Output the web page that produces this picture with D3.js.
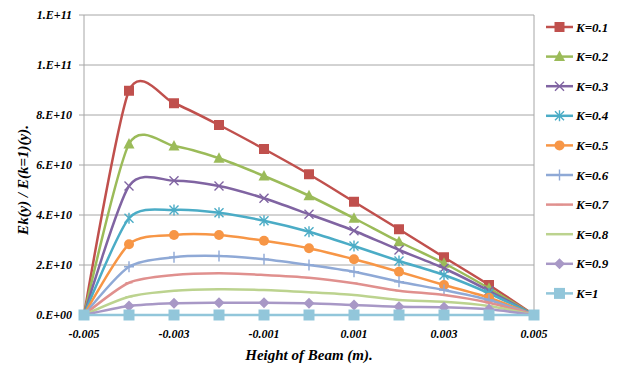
<!DOCTYPE html>
<html>
<head>
<meta charset="utf-8">
<script src="https://cdn.jsdelivr.net/npm/d3@7"></script>
<style>
  body { margin: 0; background: #fff; }
  svg { display: block; }
  text { font-family: "Times New Roman", "Liberation Serif", serif; font-weight: bold; font-style: italic; fill: #000; }
</style>
</head>
<body>
<div id="chart"></div>
<script>
// beam height positions (m)
const heights = [-0.005, -0.004, -0.003, -0.002, -0.001, 0, 0.001, 0.002, 0.003, 0.004, 0.005];

// Ek(y) / E(k=1)(y) (x 1e10)
const k01 = [0, 8.97, 8.47, 7.60, 6.64, 5.63, 4.53, 3.43, 2.31, 1.20, 0];
const k02 = [0, 6.84, 6.76, 6.27, 5.56, 4.77, 3.87, 2.93, 2.07, 1.07, 0];
const k03 = [0, 5.16, 5.37, 5.16, 4.67, 4.03, 3.37, 2.60, 1.87, 0.97, 0];
const k04 = [0, 3.87, 4.20, 4.09, 3.77, 3.33, 2.76, 2.16, 1.60, 0.87, 0];
const k05 = [0, 2.83, 3.20, 3.20, 2.97, 2.67, 2.23, 1.73, 1.20, 0.69, 0];
const k06 = [0, 1.93, 2.31, 2.36, 2.23, 2.00, 1.73, 1.33, 1.00, 0.60, 0];
const k07 = [0, 1.29, 1.60, 1.67, 1.60, 1.49, 1.27, 0.97, 0.80, 0.49, 0];
const k08 = [0, 0.73, 0.97, 1.03, 1.00, 0.91, 0.80, 0.60, 0.53, 0.36, 0];
const k09 = [0, 0.36, 0.47, 0.49, 0.49, 0.47, 0.40, 0.33, 0.31, 0.23, 0];
const k10 = [0, 0, 0, 0, 0, 0, 0, 0, 0, 0, 0];

const seriesNames = ['K=0.1', 'K=0.2', 'K=0.3', 'K=0.4', 'K=0.5', 'K=0.6', 'K=0.7', 'K=0.8', 'K=0.9', 'K=1'];
const seriesValues = [k01, k02, k03, k04, k05, k06, k07, k08, k09, k10];
const seriesColors = ['#C0504D', '#9BBB59', '#8064A2', '#4BACC6', '#F79646', '#8FA9D6', '#E0908E', '#BCD38F', '#A898C6', '#92C6DA'];
const seriesMarkers = ['square', 'triangle', 'x', 'star', 'circle', 'plus', 'dash', 'dash', 'diamond', 'bigsquare'];

const yTicks = [0, 2e10, 4e10, 6e10, 8e10, 1e11, 1.2e11];
const yTickLabels = ['0.E+00', '2.E+10', '4.E+10', '6.E+10', '8.E+10', '1.E+11', '1.E+11'];
const xTicks = [-0.005, -0.003, -0.001, 0.001, 0.003, 0.005];
const xTickLabels = ['-0.005', '-0.003', '-0.001', '0.001', '0.003', '0.005'];

const width = 624, height = 367;
const plot = { left: 84, right: 534, top: 15, bottom: 315 };

const svg = d3.select('#chart').append('svg')
  .attr('width', width)
  .attr('height', height);

const x = d3.scaleLinear().domain([-0.005, 0.005]).range([plot.left, plot.right]);
const y = d3.scaleLinear().domain([0, 1.2e11]).range([plot.bottom, plot.top]);

// gridlines
svg.append('g')
  .selectAll('line')
  .data(yTicks)
  .enter().append('line')
  .attr('x1', plot.left - 5)
  .attr('x2', plot.right)
  .attr('y1', d => y(d))
  .attr('y2', d => y(d))
  .style('stroke', '#A6A6A6')
  .style('stroke-width', 1);

// plot frame: left axis and right border
svg.append('line')
  .attr('x1', plot.left).attr('x2', plot.left)
  .attr('y1', plot.top).attr('y2', plot.bottom)
  .style('stroke', '#A6A6A6');
svg.append('line')
  .attr('x1', plot.right).attr('x2', plot.right)
  .attr('y1', plot.top).attr('y2', plot.bottom)
  .style('stroke', '#A6A6A6');

// y tick labels
svg.append('g')
  .selectAll('text')
  .data(yTicks)
  .enter().append('text')
  .attr('x', 72)
  .attr('y', d => y(d) + 4)
  .attr('text-anchor', 'end')
  .style('font-size', '12px')
  .text((d, i) => yTickLabels[i]);

// x tick labels
svg.append('g')
  .selectAll('text')
  .data(xTicks)
  .enter().append('text')
  .attr('x', d => x(d))
  .attr('y', 338)
  .attr('text-anchor', 'middle')
  .style('font-size', '12px')
  .text((d, i) => xTickLabels[i]);

// axis titles
svg.append('text')
  .attr('x', 309)
  .attr('y', 360)
  .attr('text-anchor', 'middle')
  .style('font-size', '15px')
  .text('Height of Beam (m).');

svg.append('text')
  .attr('transform', 'translate(28,180) rotate(-90)')
  .attr('text-anchor', 'middle')
  .style('font-size', '15px')
  .text('Ek(y) / E(k=1)(y).');

function markerPath(type) {
  switch (type) {
    case 'square': return 'M-5,-5H5V5H-5Z';
    case 'bigsquare': return 'M-5.5,-5.5H5.5V5.5H-5.5Z';
    case 'triangle': return 'M0,-6L5.5,4.5H-5.5Z';
    case 'diamond': return 'M0,-5.5L5.5,0L0,5.5L-5.5,0Z';
    case 'x': return 'M-4.5,-4.5L4.5,4.5M-4.5,4.5L4.5,-4.5';
    case 'star': return 'M-4.5,-4.5L4.5,4.5M-4.5,4.5L4.5,-4.5M0,-5.5V5.5';
    case 'plus': return 'M-5,0H5M0,-5.5V5.5';
    case 'dash': return 'M-3.5,0H3.5';
  }
  return '';
}
const filled = t => ['square', 'bigsquare', 'triangle', 'diamond'].includes(t);

function drawMarker(g, type, color) {
  if (type === 'circle') {
    g.append('circle').attr('r', 5).style('fill', color);
  } else {
    g.append('path')
      .attr('d', markerPath(type))
      .style('fill', filled(type) ? color : 'none')
      .style('stroke', color)
      .style('stroke-width', filled(type) ? 0 : 1.4);
  }
}

const line = d3.line()
  .x((d, i) => x(heights[i]))
  .y(d => y(d * 1e10))
  .curve(d3.curveCardinal.tension(0.25));

// K=1 comes last so it sits on top, like the reference
seriesValues.forEach((vals, s) => {
  const color = seriesColors[s];
  svg.append('path')
    .datum(vals)
    .attr('d', line)
    .style('fill', 'none')
    .style('stroke', color)
    .style('stroke-width', 2.5);

  vals.forEach((v, i) => {
    if (s < 9 && (i === 0 || i === vals.length - 1)) return;
    const g = svg.append('g').attr('transform', `translate(${x(heights[i])},${y(v * 1e10)})`);
    drawMarker(g, seriesMarkers[s], color);
  });
});

// legend
const legend = svg.append('g');
seriesNames.forEach((name, s) => {
  const ly = 27 + s * 29.6;
  const color = seriesColors[s];
  legend.append('line')
    .attr('x1', 546).attr('x2', 573)
    .attr('y1', ly).attr('y2', ly)
    .style('stroke', color)
    .style('stroke-width', 2.5);
  const g = legend.append('g').attr('transform', `translate(559.5,${ly})`);
  drawMarker(g, seriesMarkers[s], color);
  legend.append('text')
    .attr('x', 576)
    .attr('y', ly + 4.5)
    .style('font-size', '13px')
    .text(name);
});
</script>
</body>
</html>
